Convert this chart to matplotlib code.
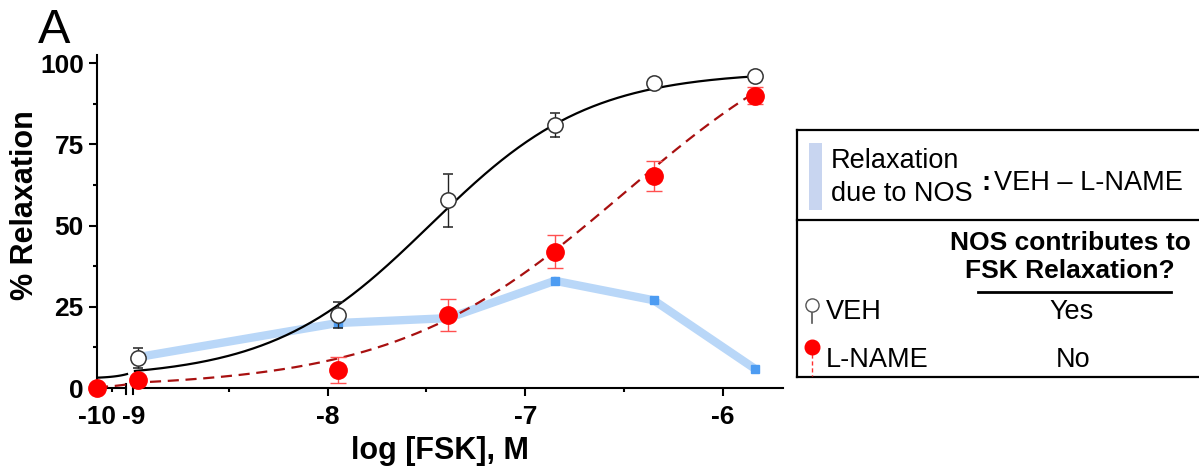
import numpy as np
import matplotlib.pyplot as plt
from matplotlib.patches import Rectangle

plt.rcParams['font.family'] = ['Liberation Sans', 'DejaVu Sans']

# log [FSK] (M); -10 is the baseline point drawn left of the axis break
log_fsk = [-10, -8.96, -7.95, -7.39, -6.85, -6.35, -5.84]

veh_x = log_fsk[1:]
veh_mean = [9.2, 22.5, 57.8, 81.0, 94.0, 96.1]
veh_sem = [3.0, 4.0, 8.2, 3.6, 1.0, 0.8]

lname_x = log_fsk
lname_mean = [0.0, 2.5, 5.5, 22.5, 42.0, 65.3, 89.9]
lname_sem = [0.0, 1.0, 4.0, 5.0, 5.2, 4.6, 2.6]

nos_x = log_fsk[1:]
nos_diff = [9.5, 20.0, 21.5, 33.0, 27.0, 6.0]

# fitted 4PL curves: bottom, top, logEC50, hill
veh_fit = (3.0, 97.5, -7.48, 1.08)
lname_fit = (0.0, 120.0, -6.5, 0.75)

x_ticks = [-10, -9, -8, -7, -6]
x_ticklabels = ["-10", "-9", "-8", "-7", "-6"]
y_ticks = [0, 25, 50, 75, 100]


def logistic(x, p):
    bottom, top, ec50, hill = p
    return bottom + (top - bottom) / (1 + 10 ** (hill * (ec50 - x)))


def to_pos(x):
    # squeeze the -10 .. -9 decade into the small segment left of the break
    return np.interp(x, [-10, -9.2, -8.975, -5], [-9.167, -9.015, -8.975, -5])


fig = plt.figure(figsize=(11.99, 4.72), dpi=100)
ax = fig.add_axes([97 / 1199, 84 / 472, 686 / 1199, 333 / 472])

# difference line (VEH - L-NAME)
ax.plot(to_pos(nos_x), nos_diff, color="#b9d7f8", lw=6, zorder=1, solid_capstyle="butt")
ax.plot(to_pos(nos_x[1:]), nos_diff[1:], ls="none", marker="s", ms=6, color="#4d9cf2", zorder=1.5)

# fitted curves
xl = np.linspace(-10, -9.2, 60)
xr = np.linspace(-8.975, veh_x[-1], 300)
ax.plot(to_pos(xl), logistic(xl, veh_fit), color="black", lw=1.6, zorder=3)
ax.plot(to_pos(xr), logistic(xr, veh_fit), color="black", lw=1.6, zorder=3)
xa = np.linspace(-10, lname_x[-1], 400)
ax.plot(to_pos(xa), logistic(xa, lname_fit), color="#a81010", lw=1.6, ls=(0, (5, 3)), zorder=3)

# data points
ax.errorbar(to_pos(veh_x), veh_mean, yerr=veh_sem, fmt="o", ms=11, mfc="white",
            mec="#333333", mew=1.1, ecolor="#222222", elinewidth=1, capsize=3.3,
            capthick=1, zorder=4, clip_on=False)
ax.errorbar(to_pos(lname_x), lname_mean, yerr=lname_sem, fmt="o", ms=12.5, mfc="#ff0000",
            mec="#ff0000", ecolor="#ff5050", elinewidth=1, capsize=6, capthick=1,
            zorder=5, clip_on=False)

ax.set_xlim(-9.167, -5.696)
ax.set_ylim(0, 102.5)

ax.spines["top"].set_visible(False)
ax.spines["right"].set_visible(False)
ax.spines["bottom"].set_visible(False)
ax.spines["left"].set_linewidth(1.5)

# bottom axis with a break
bt = ax.get_xaxis_transform()
ax.plot([-9.167, -9.022], [0, 0], color="black", lw=1.5, transform=bt, clip_on=False, zorder=2)
ax.plot([-8.985, -5.696], [0, 0], color="black", lw=1.5, transform=bt, clip_on=False, zorder=2)
for bx in [-9.022, -8.985]:
    ax.plot([bx, bx], [0.012, -0.017], color="black", lw=1.5, transform=bt, clip_on=False, zorder=2)

ax.set_xticks(to_pos(x_ticks))
ax.set_xticklabels(x_ticklabels)
ax.set_xticks(to_pos([-9.6, -8.5, -7.5, -6.5]), minor=True)
ax.set_yticks(y_ticks)
ax.set_yticks([12.5, 37.5, 62.5, 87.5], minor=True)
ax.tick_params(which="major", length=5.5, width=1.5, pad=4, labelsize=19)
ax.tick_params(axis="x", which="major", pad=7)
ax.tick_params(which="minor", length=3, width=1.5)
for lab in ax.get_xticklabels() + ax.get_yticklabels():
    lab.set_fontweight("bold")
ticks = ax.xaxis.get_major_ticks()
ticks[0].tick1line.set_visible(False)
ticks[1].tick1line.set_visible(False)

ax.set_xlabel("log [FSK], M", fontsize=22, fontweight="bold")
ax.xaxis.set_label_coords(0.5, -0.145)
ax.set_ylabel("% Relaxation", fontsize=22, fontweight="bold")
ax.yaxis.set_label_coords(-0.083, 0.55)

fig.text(38 / 1199, 1 - 8 / 472, "A", fontsize=35, va="top", ha="left")

# legend box drawn in pixel coordinates
ov = fig.add_axes([0, 0, 1, 1])
ov.set_xlim(0, 1199)
ov.set_ylim(472, 0)
ov.axis("off")
lw_box = 1.6
ov.plot([797, 1199], [130, 130], color="black", lw=lw_box)
ov.plot([797, 1199], [220, 220], color="black", lw=lw_box)
ov.plot([797, 1199], [377, 377], color="black", lw=lw_box)
ov.plot([797, 797], [130, 377], color="black", lw=lw_box)
ov.add_patch(Rectangle((809, 143), 13, 67, color="#c8d5f0", lw=0))
ov.text(831, 168, "Relaxation", fontsize=19.5, va="baseline")
ov.text(831, 201, "due to NOS", fontsize=19.5, va="baseline")
ov.text(981, 190, ":", fontsize=19.5, va="baseline", fontweight="bold")
ov.text(994, 190, "VEH \u2013 L-NAME", fontsize=19.5, va="baseline")

ov.text(1070, 250, "NOS contributes to", fontsize=19, fontweight="bold", ha="center", va="baseline")
ov.text(1070, 278, "FSK Relaxation?", fontsize=19, fontweight="bold", ha="center", va="baseline")
ov.plot([978, 1171], [292, 292], color="black", lw=2)
ov.text(1072, 319, "Yes", fontsize=19.5, ha="center", va="baseline")
ov.text(1073, 367, "No", fontsize=19.5, ha="center", va="baseline")
ov.text(826, 319, "VEH", fontsize=19.5, va="baseline")
ov.text(826, 367, "L-NAME", fontsize=19.5, va="baseline")

ov.plot([812, 812], [305, 323], color="#555555", lw=1.2)
ov.plot([812], [305], marker="o", ms=9.5, mfc="white", mec="#555555", mew=1)
ov.plot([812, 812], [347, 376], color="#ff3030", lw=1, ls=(0, (3, 2)))
ov.plot([812], [347], marker="o", ms=10.5, color="#ff0000")

fig.savefig("out.png", dpi=100)
